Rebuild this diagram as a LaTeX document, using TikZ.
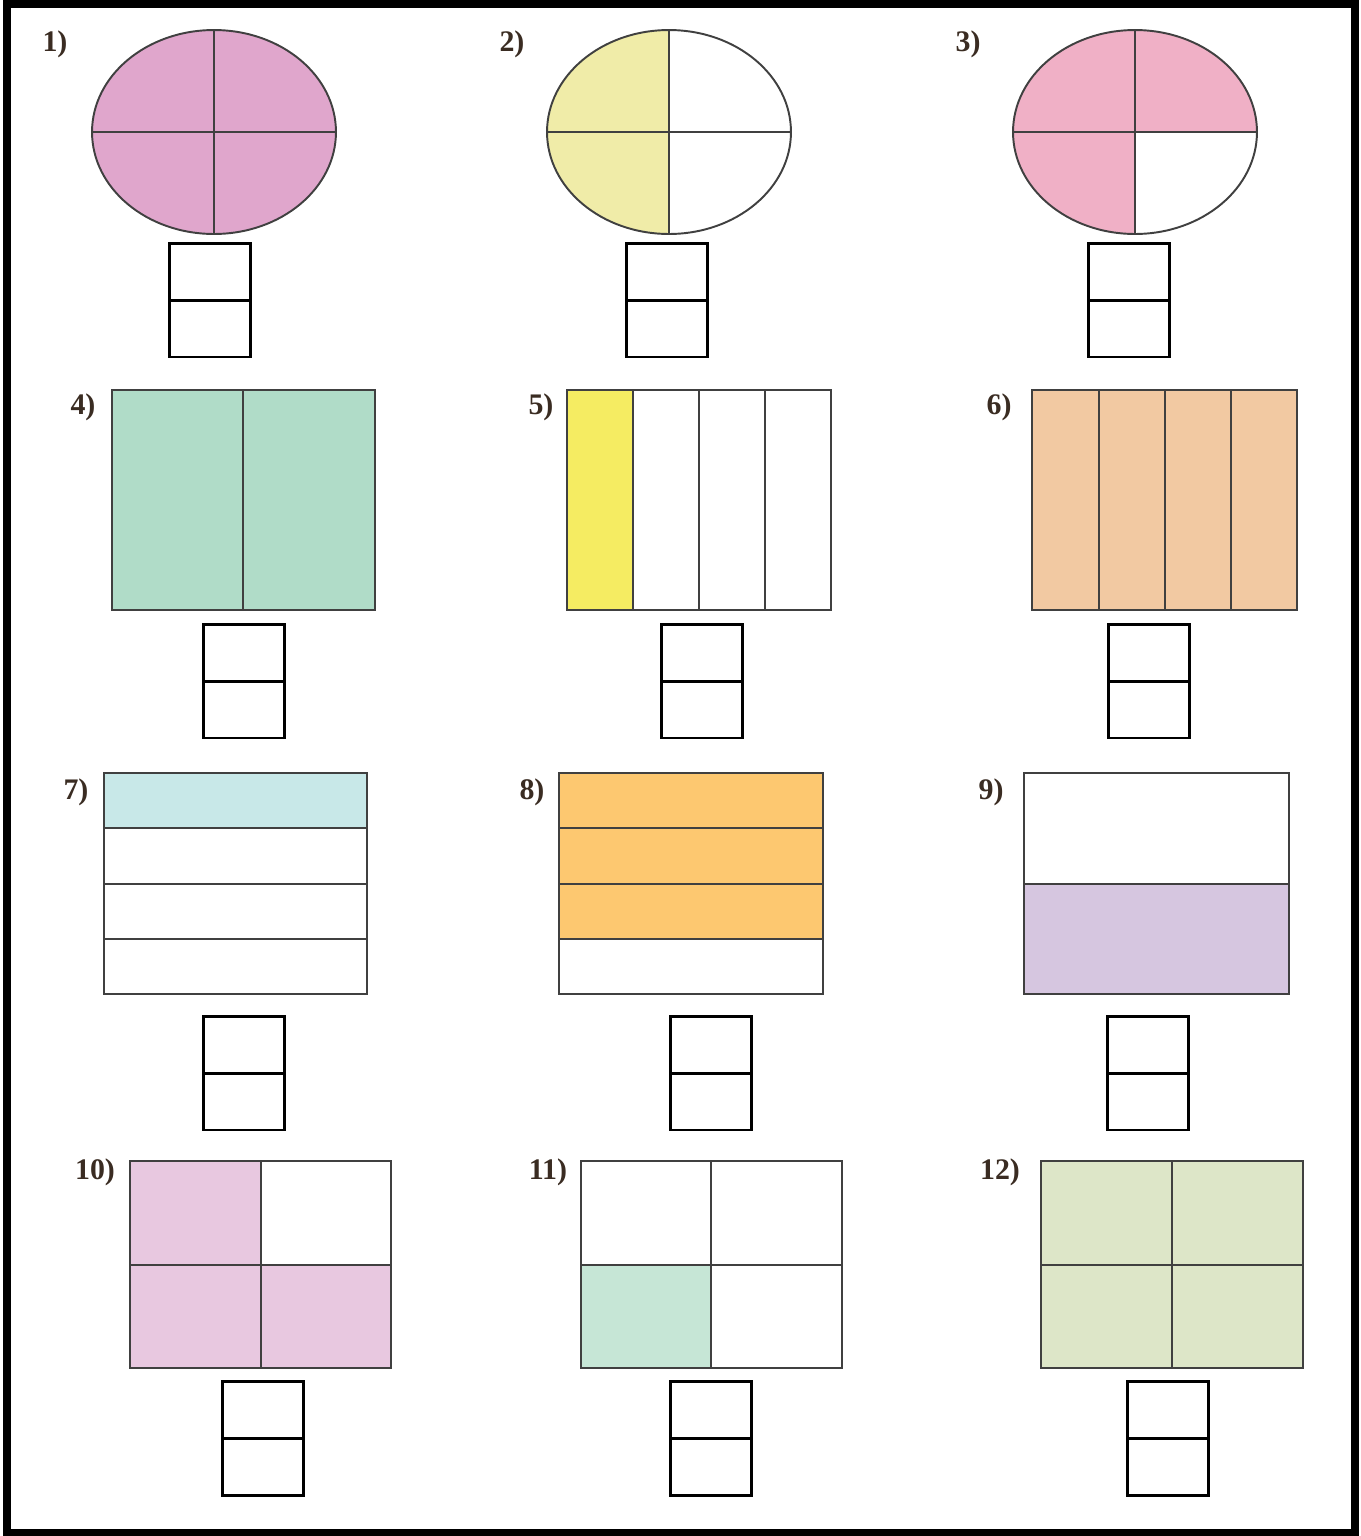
\documentclass[tikz,border=0pt]{standalone}
\usepackage{fontspec}
\setmainfont{Liberation Serif}
\usepackage{tikz}

\definecolor{pinkA}{HTML}{E0A6CC}
\definecolor{yellowA}{HTML}{F0ECA8}
\definecolor{pinkB}{HTML}{F0B0C6}
\definecolor{greenA}{HTML}{B0DCC8}
\definecolor{yellowB}{HTML}{F5EC62}
\definecolor{peach}{HTML}{F2C9A2}
\definecolor{cyanA}{HTML}{C8E8E8}
\definecolor{orangeA}{HTML}{FDC870}
\definecolor{lavender}{HTML}{D6C6E0}
\definecolor{pinkC}{HTML}{E8C8E0}
\definecolor{greenB}{HTML}{C6E6D6}
\definecolor{greenC}{HTML}{DDE6C8}
\definecolor{labelcol}{HTML}{3A2C22}

\begin{document}
\begin{tikzpicture}[x=0.02cm, y=-0.02cm,
  part/.style={draw=black!75, line width=1.1pt},
  ans/.style={rectangle, draw, line width=1.7pt, minimum width=1.62cm, minimum height=2.28cm, inner sep=0pt},
  ansline/.style={line width=1.7pt},
  num/.style={font=\fontsize{17}{19}\selectfont\bfseries, text=labelcol, inner sep=0pt}]

  \useasboundingbox (0,0) rectangle (1361,1536);
  \draw[line width=0.16cm] (7,4) rectangle (1355,1533);

  % Row 1: ellipses
  \node[num] (n1) at (55,44) {1)};
  \fill[pinkA] (214,132) ellipse [x radius=2.44cm, y radius=2.04cm];
  \draw[part] (214,132) ellipse [x radius=2.44cm, y radius=2.04cm];
  \draw[part] (92,132) -- (336,132);
  \draw[part] (214,30) -- (214,234);

  \node[num] (n2) at (512,44) {2)};
  \begin{scope}
    \clip (669,132) ellipse [x radius=2.44cm, y radius=2.04cm];
    \fill[yellowA] (540,20) rectangle (669,240);
  \end{scope}
  \draw[part] (669,132) ellipse [x radius=2.44cm, y radius=2.04cm];
  \draw[part] (547,132) -- (791,132);
  \draw[part] (669,30) -- (669,234);

  \node[num] (n3) at (968,44) {3)};
  \fill[pinkB] (1135,132) ellipse [x radius=2.44cm, y radius=2.04cm];
  \begin{scope}
    \clip (1135,132) ellipse [x radius=2.44cm, y radius=2.04cm];
    \fill[white] (1135,132) rectangle (1265,240);
  \end{scope}
  \draw[part] (1135,132) ellipse [x radius=2.44cm, y radius=2.04cm];
  \draw[part] (1013,132) -- (1257,132);
  \draw[part] (1135,30) -- (1135,234);

  \node[ans] (a1) at (210,300) {};
  \draw[ansline] (a1.west) -- (a1.east);
  \node[ans] (a2) at (667,300) {};
  \draw[ansline] (a2.west) -- (a2.east);
  \node[ans] (a3) at (1129,300) {};
  \draw[ansline] (a3.west) -- (a3.east);

  % Row 2: vertical strips
  \node[num] (n4) at (83,407) {4)};
  \fill[greenA] (112,390) rectangle (375,610);
  \draw[part] (112,390) rectangle (375,610);
  \draw[part] (243,390) -- (243,610);

  \node[num] (n5) at (541,407) {5)};
  \fill[yellowB] (567,390) rectangle (633,610);
  \draw[part] (567,390) rectangle (831,610);
  \draw[part] (633,390) -- (633,610);
  \draw[part] (699,390) -- (699,610);
  \draw[part] (765,390) -- (765,610);

  \node[num] (n6) at (999,407) {6)};
  \fill[peach] (1032,390) rectangle (1297,610);
  \draw[part] (1032,390) rectangle (1297,610);
  \draw[part] (1099,390) -- (1099,610);
  \draw[part] (1165,390) -- (1165,610);
  \draw[part] (1231,390) -- (1231,610);

  \node[ans] (a4) at (244,681) {};
  \draw[ansline] (a4.west) -- (a4.east);
  \node[ans] (a5) at (702,681) {};
  \draw[ansline] (a5.west) -- (a5.east);
  \node[ans] (a6) at (1149,681) {};
  \draw[ansline] (a6.west) -- (a6.east);

  % Row 3: horizontal strips
  \node[num] (n7) at (76,792) {7)};
  \fill[cyanA] (104,773) rectangle (367,828);
  \draw[part] (104,773) rectangle (367,994);
  \draw[part] (104,828) -- (367,828);
  \draw[part] (104,884) -- (367,884);
  \draw[part] (104,939) -- (367,939);

  \node[num] (n8) at (532,792) {8)};
  \fill[orangeA] (559,773) rectangle (823,939);
  \draw[part] (559,773) rectangle (823,994);
  \draw[part] (559,828) -- (823,828);
  \draw[part] (559,884) -- (823,884);
  \draw[part] (559,939) -- (823,939);

  \node[num] (n9) at (991,792) {9)};
  \fill[lavender] (1024,884) rectangle (1289,994);
  \draw[part] (1024,773) rectangle (1289,994);
  \draw[part] (1024,884) -- (1289,884);

  \node[ans] (a7) at (244,1073) {};
  \draw[ansline] (a7.west) -- (a7.east);
  \node[ans] (a8) at (711,1073) {};
  \draw[ansline] (a8.west) -- (a8.east);
  \node[ans] (a9) at (1148,1073) {};
  \draw[ansline] (a9.west) -- (a9.east);

  % Row 4: quarters
  \node[num] (n10) at (95,1172) {10)};
  \fill[pinkC] (130,1161) rectangle (261,1368);
  \fill[pinkC] (261,1265) rectangle (391,1368);
  \draw[part] (130,1161) rectangle (391,1368);
  \draw[part] (261,1161) -- (261,1368);
  \draw[part] (130,1265) -- (391,1265);

  \node[num] (n11) at (548,1172) {11)};
  \fill[greenB] (581,1265) rectangle (711,1368);
  \draw[part] (581,1161) rectangle (842,1368);
  \draw[part] (711,1161) -- (711,1368);
  \draw[part] (581,1265) -- (842,1265);

  \node[num] (n12) at (1000,1172) {12)};
  \fill[greenC] (1041,1161) rectangle (1303,1368);
  \draw[part] (1041,1161) rectangle (1303,1368);
  \draw[part] (1172,1161) -- (1172,1368);
  \draw[part] (1041,1265) -- (1303,1265);

  \node[ans] (a10) at (263,1438) {};
  \draw[ansline] (a10.west) -- (a10.east);
  \node[ans] (a11) at (711,1438) {};
  \draw[ansline] (a11.west) -- (a11.east);
  \node[ans] (a12) at (1168,1438) {};
  \draw[ansline] (a12.west) -- (a12.east);
\end{tikzpicture}
\end{document}
